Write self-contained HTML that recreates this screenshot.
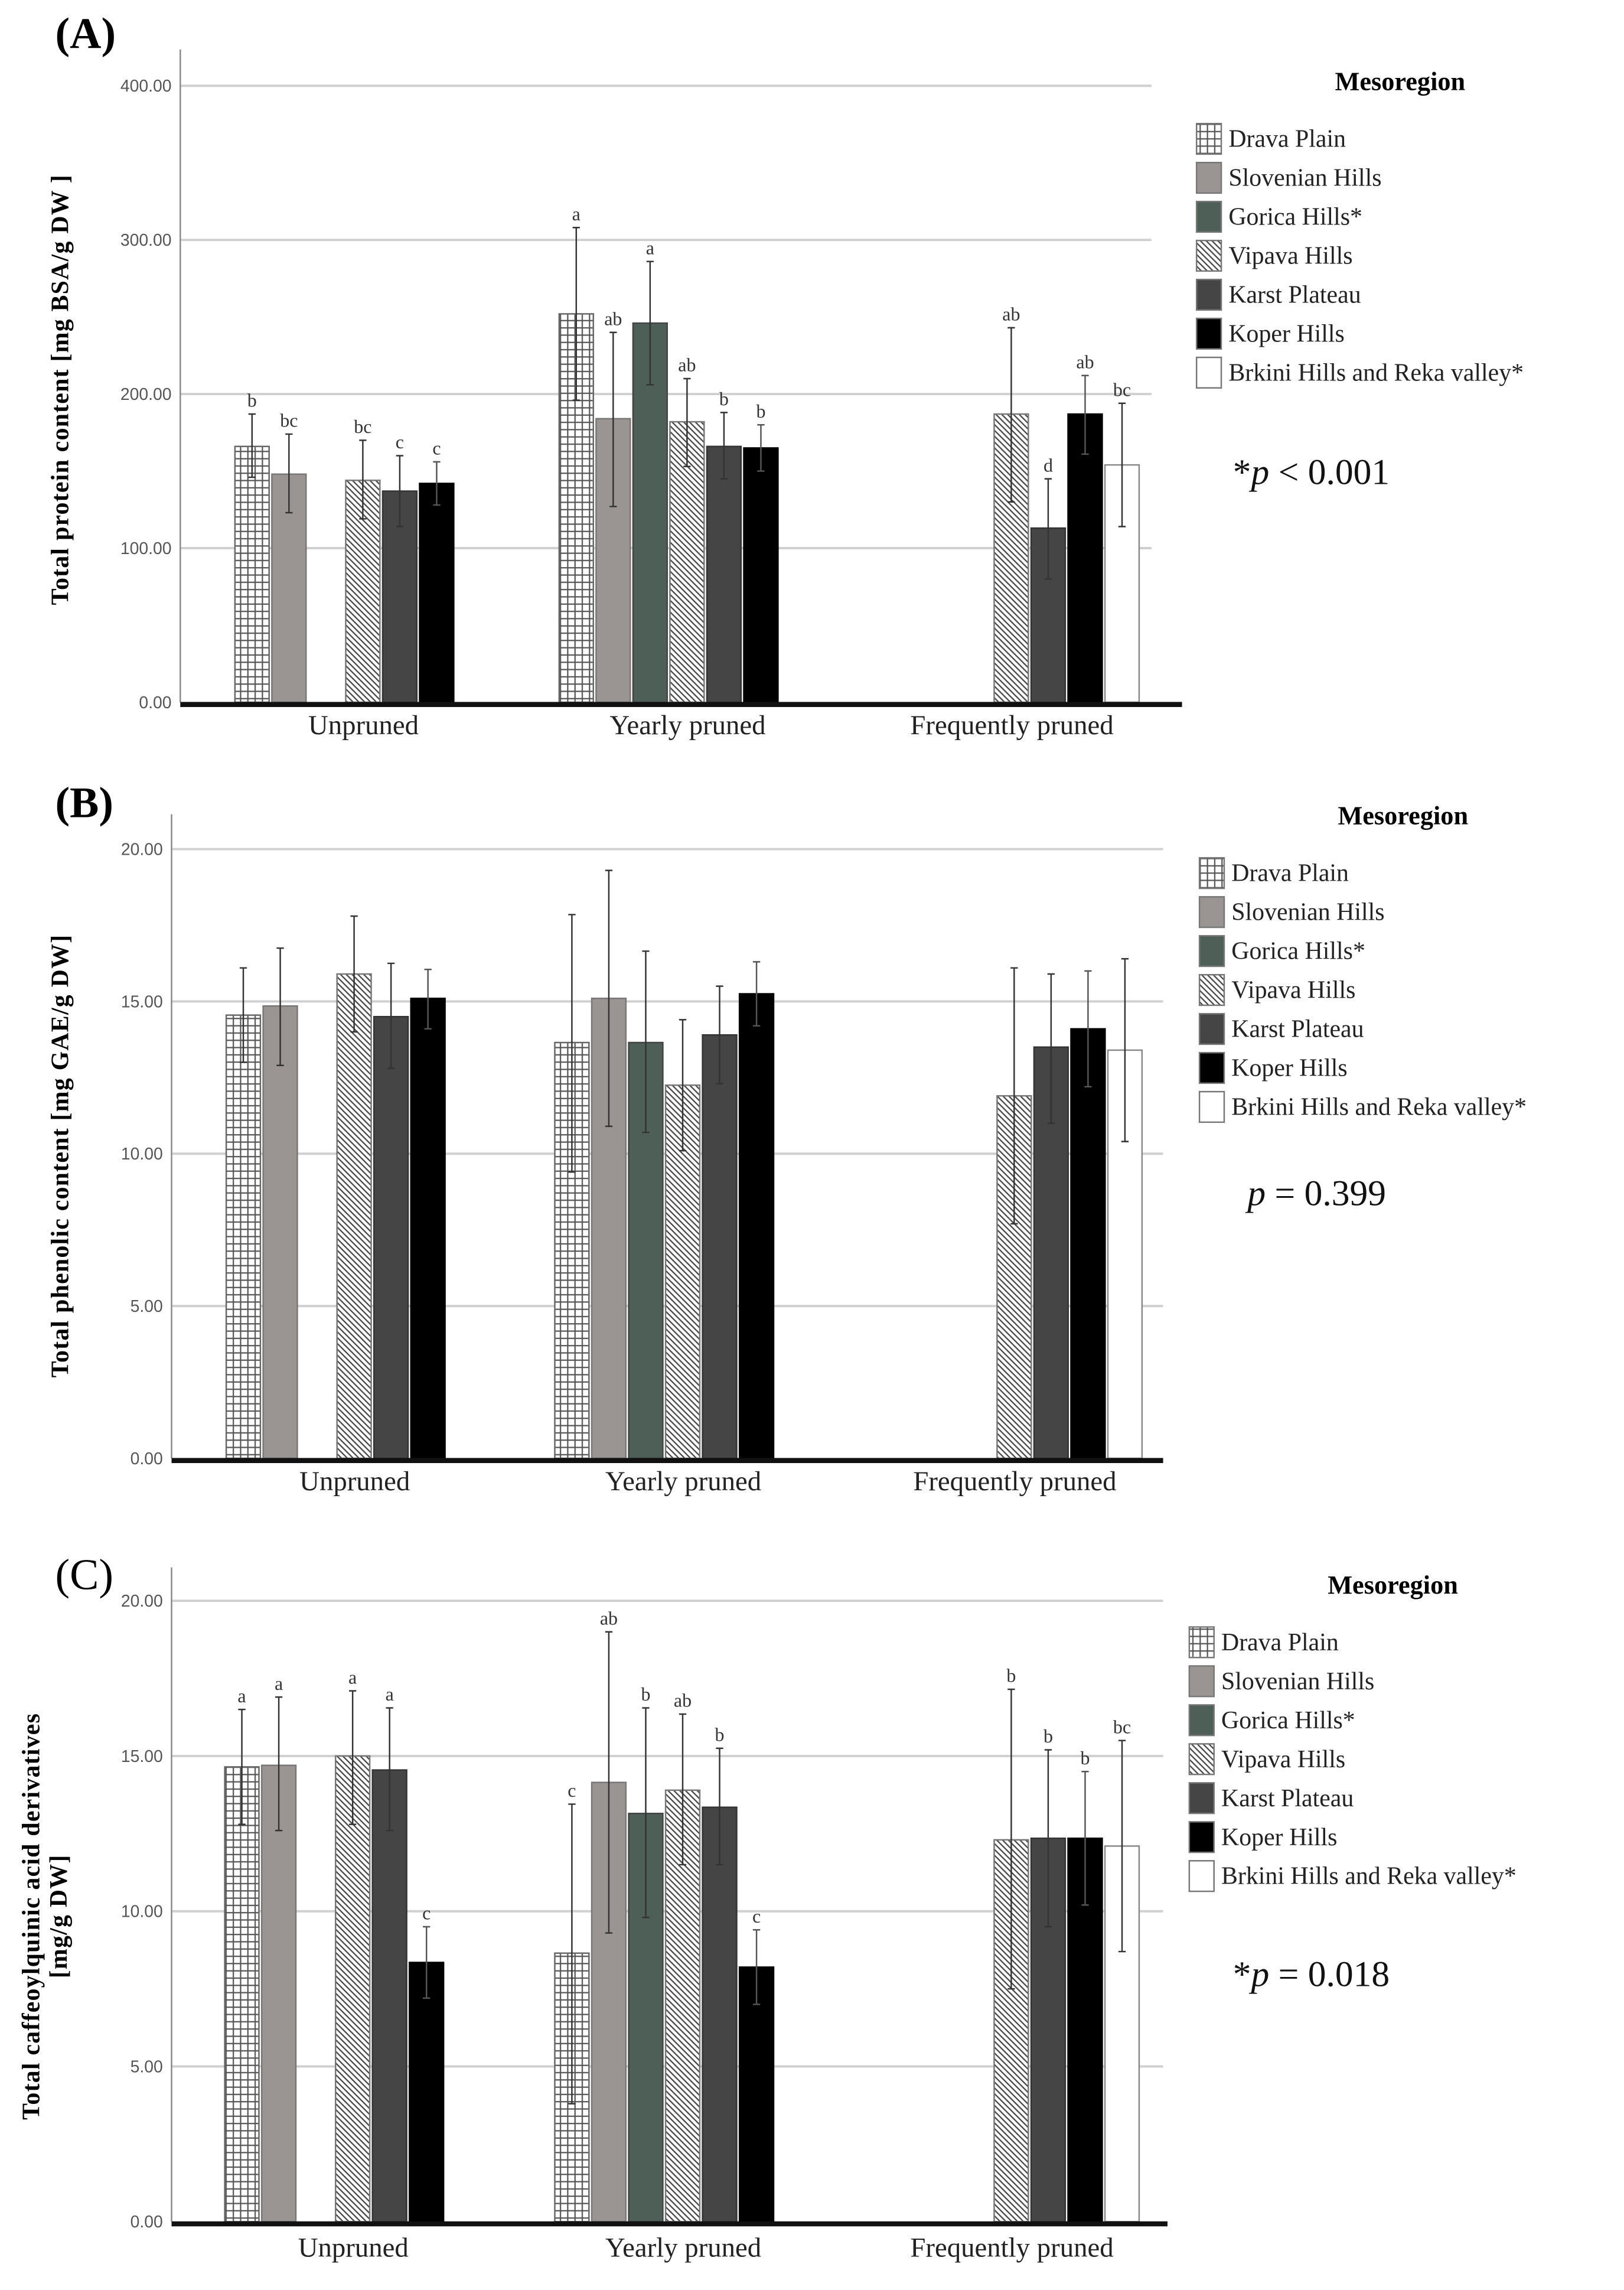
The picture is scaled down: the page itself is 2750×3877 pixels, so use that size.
<!DOCTYPE html>
<html><head><meta charset="utf-8"><style>
html,body{margin:0;padding:0;background:#fff}
svg{display:block}
text{font-family:"Liberation Serif",serif}
</style></head><body>
<svg id="fig" width="2750" height="3877" viewBox="0 0 1117 1575" preserveAspectRatio="none" xmlns="http://www.w3.org/2000/svg">
<defs>
<pattern id="pgrid" width="5" height="5" patternUnits="userSpaceOnUse"><rect width="5" height="5" fill="#fff"/><path d="M0 0.5H5M0.5 0V5" stroke="#555" stroke-width="0.9"/></pattern>
<pattern id="phatch" width="4" height="4" patternUnits="userSpaceOnUse"><rect width="4" height="4" fill="#fff"/><path d="M-1 -1L5 5M-1 3L1 5M3 -1L5 1" stroke="#444" stroke-width="0.9"/></pattern>
</defs>
</svg>
<script>
const series = ["Drava Plain","Slovenian Hills","Gorica Hills*","Vipava Hills","Karst Plateau","Koper Hills","Brkini Hills and Reka valley*"];
const categories = ["Unpruned","Yearly pruned","Frequently pruned"];
// Panel A
const aMeans = [[166,148,null,144,137,142,null],[252,184,246,182,166,165,null],[null,null,null,187,113,187,154]];
const aLow = [[146,123,null,119,114,128,null],[196,127,206,153,145,150,null],[null,null,null,130,80,161,114]];
const aHigh = [[187,174,null,170,160,156,null],[308,240,286,210,188,180,null],[null,null,null,243,145,212,194]];
const aLetters = [["b","bc","","bc","c","c",""],["a","ab","a","ab","b","b",""],["","","","ab","d","ab","bc"]];
const aTicks = ["0.00","100.00","200.00","300.00","400.00"];
// Panel B
const bMeans = [[14.55,14.85,null,15.9,14.5,15.1,null],[13.65,15.1,13.65,12.25,13.9,15.25,null],[null,null,null,11.9,13.5,14.1,13.4]];
const bLow = [[13.0,12.9,null,14.0,12.8,14.1,null],[9.4,10.9,10.7,10.1,12.3,14.2,null],[null,null,null,7.7,11.0,12.2,10.4]];
const bHigh = [[16.1,16.75,null,17.8,16.25,16.05,null],[17.85,19.3,16.65,14.4,15.5,16.3,null],[null,null,null,16.1,15.9,16.0,16.4]];
const bLetters = [["","","","","","",""],["","","","","","",""],["","","","","","",""]];
const bTicks = ["0.00","5.00","10.00","15.00","20.00"];
// Panel C
const cMeans = [[14.65,14.7,null,15.0,14.55,8.35,null],[8.65,14.15,13.15,13.9,13.35,8.2,null],[null,null,null,12.3,12.35,12.35,12.1]];
const cLow = [[12.8,12.6,null,12.8,12.6,7.2,null],[3.8,9.3,9.8,11.5,11.5,7.0,null],[null,null,null,7.5,9.5,10.2,8.7]];
const cHigh = [[16.5,16.9,null,17.1,16.55,9.5,null],[13.45,19.0,16.55,16.35,15.25,9.4,null],[null,null,null,17.15,15.2,14.5,15.5]];
const cLetters = [["a","a","","a","a","c",""],["c","ab","b","ab","b","c",""],["","","","b","b","b","bc"]];
const cTicks = ["0.00","5.00","10.00","15.00","20.00"];

const fills = ["url(#pgrid)","#9a9593","#4e5f58","url(#phatch)","#454545","#000","#fff"];
const strokes = ["#666","#777","#444","#777","#333","#000","#888"];
const svg = document.getElementById('fig');
const NS = "http://www.w3.org/2000/svg";
function el(tag, attrs, parent, txt){
  const e = document.createElementNS(NS, tag);
  for (const k in attrs) e.setAttribute(k, attrs[k]);
  if (txt !== undefined) e.textContent = txt;
  (parent || svg).appendChild(e);
  return e;
}
function panel(cfg){
  const g = el('g', {});
  
  
  const yMax = cfg.yMax;
  const y = v => cfg.y0 - (v / yMax) * (cfg.y0 - cfg.yTop);
  const t = el('text', {x: cfg.labelX, y: cfg.labelY, 'font-size': 30, 'font-weight': cfg.bold ? 'bold' : 'normal'}, g, cfg.label);
  
  
  cfg.ticks.forEach((tk, i) => {
    const v = yMax * i / (cfg.ticks.length - 1);
    if (i > 0) {
      const gl = el('line', {x1: cfg.axisX, x2: cfg.gridRight, y1: y(v), y2: y(v), stroke: '#d0d0d0', 'stroke-width': 1.6}, g);
      
      
    }
    const tl = el('text', {x: cfg.axisX - 6, y: y(v) + 4, 'font-size': 11.5, 'text-anchor': 'end', fill: '#555', style: 'font-family:"Liberation Sans Narrow","Liberation Sans",sans-serif'}, g, tk);
    
    
  });
  const ya = el('line', {x1: cfg.axisX, x2: cfg.axisX, y1: cfg.axisTop, y2: cfg.y0, stroke: '#888', 'stroke-width': 1}, g);
  
  
  const slot = 25.4, bw = 23.5;
  categories.forEach((c, ci) => {
    const cx = cfg.centers[ci];
    const cl = el('text', {x: cx, y: cfg.catY, 'font-size': 19, 'text-anchor': 'middle', fill: '#222'}, g, c);
    
    
    series.forEach((s, si) => {
      const m = cfg.means[ci][si];
      if (m === null) return;
      const x0 = cx - 3.5 * slot + si * slot;
      const b = el('rect', {x: x0 + 0.5, y: y(m), width: bw, height: cfg.y0 - y(m), fill: fills[si], stroke: strokes[si], 'stroke-width': 1}, g);
      
      
      const ex = x0 + 0.5 + bw / 2;
      const lo = cfg.low[ci][si], hi = cfg.high[ci][si];
      const eb = el('path', {d: `M${ex} ${y(lo)}V${y(hi)}M${ex-2.5} ${y(lo)}H${ex+2.5}M${ex-2.5} ${y(hi)}H${ex+2.5}`, stroke: si === 5 ? '#555' : '#333', 'stroke-width': 1, fill: 'none'}, g);
      
      
      const L = cfg.letters[ci][si];
      if (L) {
        const lt = el('text', {x: ex, y: y(hi) - 5, 'font-size': 13, 'text-anchor': 'middle', fill: '#333'}, g, L);
        
        
      }
    });
  });
  const xa = el('line', {x1: cfg.axisX, x2: cfg.axisRight, y1: cfg.y0 + 1.5, y2: cfg.y0 + 1.5, stroke: '#111', 'stroke-width': 3.5}, g);
  
  
  cfg.yTitle.forEach((line, i) => {
    const yt = el('text', {x: 0, y: 0, 'font-size': 17, 'font-weight': 'bold', 'text-anchor': 'middle', 'letter-spacing': 0.5, transform: `translate(${cfg.yTitleX + i * 19},${cfg.yTitleY}) rotate(-90)`}, g, line);
    
    
  });
  const lg = el('g', {}, g);
  
  
  const lh = el('text', {x: cfg.legX + 140, y: cfg.legY, 'font-size': 18, 'font-weight': 'bold', 'text-anchor': 'middle'}, lg, 'Mesoregion');
  
  
  series.forEach((s, si) => {
    const yy = cfg.legY + 23 + si * 26.8;
    const sw = el('rect', {x: cfg.legX, y: yy, width: 17, height: 21, fill: fills[si], stroke: '#777', 'stroke-width': 1}, lg);
    
    
    const lt = el('text', {x: cfg.legX + 22, y: yy + 16, 'font-size': 17, fill: '#222'}, lg, s);
    
    
  });
  const pt = el('text', {x: cfg.pX, y: cfg.pY, 'font-size': 25, fill: '#111'}, g);
  
  
  if (cfg.star) el('tspan', {}, pt, '*');
  el('tspan', {'font-style': 'italic'}, pt, 'p');
  el('tspan', {}, pt, cfg.pText);
}
panel({name:'panel-a', label:'(A)', bold:true, labelX:38, labelY:33, yMax:400, y0:483, yTop:59, axisTop:34, axisX:124, gridRight:792, axisRight:813,
  ticks:aTicks, centers:[250,473,696], catY:505, means:aMeans, low:aLow, high:aHigh, letters:aLetters,
  yTitle:['Total protein content [mg BSA/g DW ]'], yTitleX:47, yTitleY:268, legX:823, legY:62, pX:848, pY:333, pText:' < 0.001', star:true});
panel({name:'panel-b', label:'(B)', bold:true, labelX:38, labelY:562, yMax:20, y0:1003, yTop:584, axisTop:560, axisX:118, gridRight:800, axisRight:800,
  ticks:bTicks, centers:[244,470,698], catY:1025, means:bMeans, low:bLow, high:bHigh, letters:bLetters,
  yTitle:['Total phenolic content [mg GAE/g DW]'], yTitleX:47, yTitleY:795, legX:825, legY:567, pX:858, pY:829, pText:' = 0.399', star:false});
panel({name:'panel-c', label:'(C)', bold:false, labelX:38, labelY:1093, yMax:20, y0:1528, yTop:1101, axisTop:1078, axisX:118, gridRight:800, axisRight:803,
  ticks:cTicks, centers:[243,470,696], catY:1552, means:cMeans, low:cLow, high:cHigh, letters:cLetters,
  yTitle:['Total caffeoylquinic acid derivatives','[mg/g DW]'], yTitleX:27, yTitleY:1318, legX:818, legY:1096, pX:848, pY:1366, pText:' = 0.018', star:true});
</script>
</body></html>
